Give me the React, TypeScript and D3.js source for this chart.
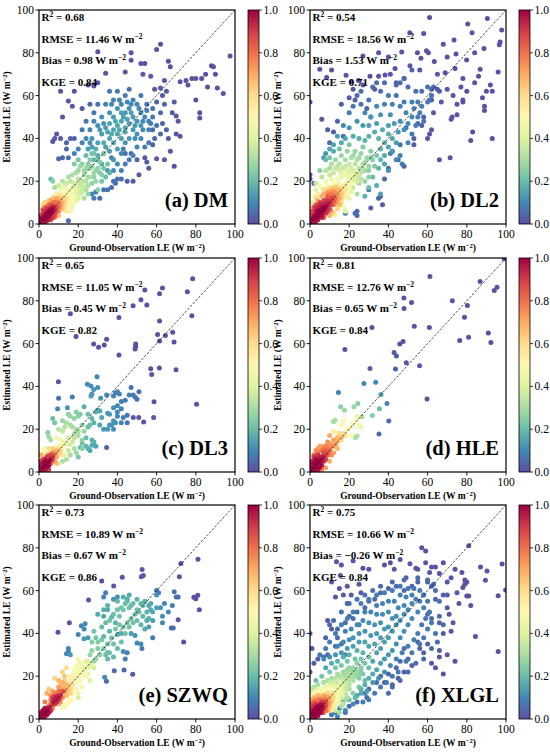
import * as d3 from "d3";

type Pt = [number, number, number]; // observed, estimated, normalised density

// (a) DM
const dmPoints: Pt[] = [
  [1,1,.95],[2,1.5,.97],[2,3,.98],[3,2,1],[3,4,1],[4,3,1],[4,5,1],[5,4,1],[5,6,1],[6,5,1],[6,7,.98],[7,6,.97],[7,8,.95],[8,7,.93],[3,6,.92],[2,5,.9],[5,2.5,.95],[6,3,.93],[8,5,.88],[9,8,.85],[1,3,.88],[4,7,.9],[7,4,.9],[10,8,.8],[9,10,.78],[1,2,.9],[.5,.5,.85],[3,.5,.85],[6,9,.85],[8,10,.8],
  [1.5,2.5,1],[2.5,1,.95],[3.5,3,1],[4.5,4,1],[5.5,5,1],[6.5,6,1],[7.5,7,.95],[4,1.5,.95],[6,2,.9],[7,3,.88],[8,4,.85],[9,6,.85],[2,6.5,.85],[3.5,7.5,.85],[5,8,.85],[7.5,9,.82],[9,7,.85],[10,9.5,.78],[1,4,.9],[.5,1.5,.85],
  [10,6,.75],[11,9,.72],[12,10,.68],[9,12,.7],[11,12,.65],[7,10,.75],[5,9,.8],[3,8,.75],[2,7,.72],[12,7,.65],[13,11,.6],[8,3,.78],[10,4,.68],[6,11,.7],
  [11,7,.68],[12,9,.65],[13,8,.6],[12,12,.62],[11,10,.7],[10,11,.7],[9,11,.72],[8,9,.8],[13,10,.6],[14,12,.58],[7,12,.65],[5,11,.65],[3,10,.62],
  [14,10,.55],[15,12,.52],[13,14,.5],[16,14,.48],[14,6,.55],[16,9,.5],[17,12,.47],[12,15,.5],[10,14,.55],[8,13,.55],[15,15,.48],[18,14,.45],[4,10,.6],[2,9,.58],[18,10,.45],[11,16,.45],[19,16,.42],[16,6,.45],[20,12,.4],
  [15,10,.5],[16,11,.48],[17,13,.45],[14,14,.5],[13,16,.45],[15,13,.5],[17,10,.45],[18,12,.43],[19,13,.42],[18,16,.42],[16,16,.45],[12,17,.42],[14,8,.52],[15,6,.48],[17,8,.42],[19,11,.4],[20,14,.38],[11,13,.58],[13,13,.55],[9,14,.55],
  [20,16,.38],[22,18,.35],[18,19,.36],[21,14,.35],[24,20,.32],[23,23,.3],[20,21,.33],[26,22,.3],[25,18,.3],[28,24,.28],[19,24,.3],[16,20,.33],[14,19,.35],[13,18,.38],[10,18,.35],[8,17,.3],[7,20,.25],[6,21,.2],[27,27,.26],[30,26,.26],[24,26,.27],[22,28,.25],[29,20,.27],[32,23,.25],[31,29,.24],[26,30,.24],[35,28,.22],[23,12,.3],[25,14,.27],[30,16,.25],[18,28,.24],[20,30,.22],[33,33,.22],[28,33,.22],
  [21,17,.35],[22,15,.35],[23,17,.33],[24,16,.3],[22,20,.33],[21,19,.35],[19,18,.38],[17,17,.4],[25,22,.3],[27,19,.27],[26,26,.27],[23,25,.28],[20,25,.28],[17,23,.3],[15,22,.3],[12,20,.32],[28,22,.26],[29,25,.25],[31,24,.23],[33,26,.22],[30,30,.22],[25,28,.25],[27,33,.2],[24,32,.2],[21,27,.27],[32,20,.22],[34,22,.2],[36,24,.18],
  [25,35,.14],[27,40,.12],[30,38,.14],[32,42,.14],[34,45,.14],[36,40,.15],[38,44,.15],[40,46,.15],[42,48,.15],[44,45,.15],[46,47,.14],[48,44,.13],[40,42,.15],[42,40,.14],[38,50,.13],[36,52,.12],[40,54,.12],[44,52,.13],[46,54,.12],[48,50,.13],[50,48,.12],[52,52,.11],[54,50,.1],[50,42,.12],[52,40,.1],[46,40,.13],[44,38,.12],[34,36,.14],[30,32,.16],[28,30,.18],[36,34,.14],[38,30,.12],[42,33,.1],[40,28,.1],[32,50,.11],[30,46,.11],[28,48,.1],[26,44,.1],[24,40,.1],[22,38,.09],[34,56,.09],[38,58,.09],[42,56,.1],[44,60,.08],[48,58,.09],[50,56,.09],[36,62,.07],[40,62,.07],[46,63,.06],[52,60,.07],[55,56,.07],[56,48,.08],[58,50,.07],[56,44,.08],[60,46,.06],[58,54,.06],[54,36,.08],[50,36,.1],[48,32,.09],[32,28,.16],[35,25,.13],[38,25,.11],[42,25,.08],[44,28,.08],[20,35,.09],[18,33,.08],[22,44,.07],[24,48,.07],[28,52,.07],[30,56,.06],[26,56,.05],[62,52,.05],[64,56,.04],[62,42,.05],[56,38,.07],[46,30,.08],[52,46,.12],[36,47,.15],[44,43,.16],[33,38,.16],[29,35,.17],[40,35,.14],[47,52,.14],[42,52,.14],[38,38,.16],
  [35,43,.15],[43,50,.14],[39,48,.15],[45,49,.14],[41,44,.16],[37,42,.16],[49,46,.13],[33,47,.12],[31,44,.13],[47,56,.1],[53,48,.1],[51,54,.1],[55,53,.08],[57,47,.08],[27,36,.14],[26,38,.12],[37,56,.1],[41,58,.09],[45,57,.1],[49,40,.11],[53,44,.1],
  [97.5,78.5,0],[62,84,0],[60,81.5,0],[30,80.5,0],[47,80,0],[47,76.5,0],[52,75,0],[54,75,0],[66,76,0],[67,73.5,0],[88,74,0],[89,73.5,0],[85,70,0],[90,70,0],[78,68,0],[80,68,0],[83,68,0],[75,67,0],[72,66.5,.01],[64,67,.01],[57,69,.01],[53,70,.01],[34,70.5,0],[44,71,.01],[30,66,.01],[25,65,.01],[28,64.5,.01],[18,62,0],[11,62,0],[15,57.5,.01],[17,55,.01],[22,54,.02],[12,50,.01],[9,42,.01],[8,40,.01],[7,38.5,.01],[11,40,.02],[16,40,.03],[18,40,.03],[14,38,.03],[14,35,.04],[10,30.5,.04],[12,31,.04],[15,31,.05],[60,30.5,.01],[50,30,.03],[54,31,.02],[47,33,.05],[58,37,.03],[67,34,.01],[69,27,0],[55,29,.02],[60,57,.03],[63,60,.02],[59,63,.02],[62,63.5,.02],[65,62,.02],[69,57,.02],[70,50.5,.01],[71,48,.01],[68,52,.02],[72,41,.01],[70,42,.01],[80,58,0],[82,52,0],[82,49.5,0],[86,64,0],[91,63.5,0],[94,61,0],[76,65,.01],[63,47,.04],[65,44,.03],[66,40,.02],[59,40,.05],[58,44,.05],[44,33,.06],[38,20,.06],[39,19,.05],[40,21,.06],[42,21,.05],[45,20,.03],[31,12,.05],[29,15,.08],[33,16,.07],[35,16,.06],[15,1.5,.05],[27,14,.1],[28,12,.08],[43,35,.08],[37,31,.1],[48,20,.02],[37,17,.05],[51,23,.02],[56,26,.02],[64,30,.01]
];

// (b) DL2
const dl2Points: Pt[] = [
  [1,1,.95],[2,2,.98],[3,3,1],[4,4,1],[5,5,1],[6,6,1],[7,7,1],[8,8,.98],[9,9,.95],[10,10,.92],[2,4,.95],[4,2,.95],[3,6,.95],[6,3,.93],[5,8,.95],[8,5,.92],[7,10,.9],[10,7,.88],[1,3,.9],[3,1,.9],[.5,.5,.9],[4,6,1],[6,4,.98],[6,9,.95],[9,6,.9],[11,12,.88],[12,11,.85],[8,11,.9],[2,6,.88],[1,5,.85],[4,8,.92],[11,9,.85],[9,12,.85],[3,9,.85],[5,10,.88],[12,13,.82],[13,12,.8],[7,3,.85],[.5,2,.85],
  [1.5,2.5,1],[2.5,3.5,1],[3.5,4.5,1],[4.5,5.5,1],[5.5,6.5,1],[6.5,7.5,1],[7.5,8.5,.97],[8.5,9.5,.95],[9.5,10.5,.92],[2.5,1.5,.97],[3.5,2.5,.98],[4.5,3.5,.98],[5.5,4.5,.98],[6.5,5.5,.97],[7.5,6.5,.95],[8.5,7.5,.93],[10.5,9,.88],[11,11,.88],[3,7.5,.93],[5,9,.92],[7,11,.88],[9,13,.82],[1,6,.85],[2,8,.85],
  [13,10,.75],[14,13,.72],[12,15,.75],[10,14,.78],[15,12,.7],[14,16,.68],[16,14,.65],[11,16,.7],[13,17,.65],[9,15,.72],[7,14,.7],[15,9,.68],[17,15,.6],[16,17,.6],[18,16,.58],[6,13,.7],[4,11,.7],[11,6,.7],[14,7,.62],[3,12,.6],[10,4,.7],[12,5,.6],[16,10,.6],[18,13,.55],[8,16,.6],
  [12,9,.78],[13,11,.75],[14,11,.7],[15,14,.68],[12,13,.78],[13,15,.72],[11,14,.76],[10,12,.8],[15,16,.65],[17,17,.58],[16,12,.62],[14,9,.65],[17,12,.55],[19,17,.52],[18,18,.55],[12,17,.62],[14,18,.58],[10,17,.6],[7,16,.6],
  [2,13,.5],[1,10,.55],[1,7,.6],[4,14,.55],[6,17,.5],[9,18,.5],[12,19,.5],[15,19,.48],[18,19,.48],[20,17,.45],[19,14,.48],[17,8,.45],[20,12,.42],[14,21,.45],[11,21,.42],[8,20,.45],[16,22,.42],[20,22,.42],[22,20,.4],[21,15,.42],[13,4,.45],[18,6,.4],[5,18,.45],[22,25,.38],[19,25,.4],
  [19,20,.45],[21,19,.45],[22,22,.42],[20,24,.4],[23,24,.38],[21,26,.37],[18,23,.42],[16,24,.4],[24,20,.38],[25,23,.35],[26,21,.33],[27,26,.32],[28,29,.3],[25,31,.28],[22,32,.27],[18,27,.35],[15,28,.32],[13,26,.35],[10,26,.3],[30,25,.25],[31,31,.24],
  [24,22,.35],[25,26,.33],[23,28,.33],[20,28,.35],[17,26,.36],[15,25,.36],[14,27,.33],[12,24,.36],[10,23,.35],[8,25,.32],[6,22,.33],[18,30,.3],[21,31,.3],[24,30,.3],[27,28,.3],[26,24,.32],[28,25,.28],[30,27,.27],[29,31,.28],[26,33,.27],[23,34,.27],[19,34,.27],[16,32,.28],[13,30,.28],[11,28,.3],[22,17,.35],[25,19,.3],[28,20,.27],[30,22,.25],[24,14,.3],[32,30,.25],[31,34,.25],[27,36,.24],[34,32,.23],[33,27,.23],[20,37,.23],[15,35,.22],[10,31,.22],[8,30,.2],[5,25,.25],[3,19,.35],[3,16,.4],
  [36,35,.18],[38,38,.18],[35,40,.18],[33,43,.17],[30,41,.18],[28,39,.18],[25,40,.17],[22,41,.16],[18,40,.15],[14,41,.14],[16,38,.16],[12,37,.15],[10,35,.15],[8,33,.13],[7,31,.13],[12,34,.17],[40,42,.17],[42,40,.15],[40,36,.15],[38,32,.16],[36,30,.18],[35,26,.18],[38,28,.15],[42,34,.13],[44,38,.13],[45,43,.13],[43,47,.13],[40,46,.14],[37,44,.16],[34,47,.14],[30,46,.14],[27,46,.13],[31,50,.12],[36,51,.12],[41,51,.12],[46,48,.11],[48,44,.11],[50,47,.1],[52,50,.1],[49,52,.1],[46,55,.09],[42,56,.09],[38,56,.09],[34,55,.1],[28,52,.1],[24,48,.11],[20,45,.12],[17,46,.1],[32,22,.2],[34,18,.17],[30,17,.2],[36,14,.15],[28,13,.18],[40,25,.12],[44,30,.1],[46,32,.09],[47,28,.08],[50,38,.09],[52,42,.08],[54,46,.08],[55,50,.08],[56,52,.08],[57,55,.08],[58,48,.07],[60,57,.07],[62,60,.06],[61,58,.06],[60,64,.06],[62,63,.05],[63,64,.05],[55,57,.08],[53,54,.09],[52,57,.08],[48,57,.08],[44,60,.07],[40,60,.07],[36,62,.06],[30,58,.06],[26,56,.07],[22,55,.07],[20,52,.08],[24,60,.05],[26,62,.05],[32,64,.05],[34,66,.05],[38,66,.05],[44,65,.05],[46,66,.05],[50,64,.05],[54,62,.06],[57,62,.06],[48,68,.05],[52,72,.04],
  [61,96.5,0],[90.5,96,0],[80.5,93.5,0],[97.8,90.6,0],[50.9,89.4,0],[58,89,0],[73.5,86,0],[68,84,0],[97,85,0],[96.6,83.8,0],[82.7,89.4,0],[88.8,82,0],[84,80,0],[59.4,81,0],[60.4,80,0],[54.8,80,0],[46.8,80.4,0],[35,80,0],[27,78.5,0],[40,78,0],[74.5,79.4,0],[79.9,76.6,0],[56.6,77.4,0],[63.4,75.9,0],[74,72.7,0],[86.8,72.3,0],[69,70.7,0],[96,71,0],[43.4,72.7,0],[38.3,69.6,0],[35,69,0],[30.6,69,0],[24.7,67,0],[18.4,69.5,0],[11,72,0],[5,72.3,0],[8.5,68.5,0],[21,66.5,0],[0,57,0],[0,23,.01],[0,21,.01],[2,19,.02],[6,49,0],[66,30,0],[71.5,31,0],[72,49,0],[72.5,50,0],[75,51,0],[78,57,0],[78,58,0],[82,39,0],[83,43,0],[89,53,0],[89,55,0],[90,62,0],[93,62,0],[92,65,0],[93,40,0],[84,66,0],[86,69,0],[88,59,0],[80,62,0],[77,64,0],[78,68,0],[65,63,.01],[66,62,.01],[70,63,.01],[67,57,.01],[62,58,.02],[58,50,.03],[60,40,.01],[61,42,.01],[62,44,.02],[55,47,.04],[57,46,.03],[53,40,.03],[53,37,.02],[48,27,.02],[45,30,.03],[42,34,.05],[40,26,.05],[38,21,.04],[36,13,.03],[35,12,.03],[37,9,.02],[31,7.5,.03],[24,6,.05],[24,4,.04],[23,5,.05],[18,5,.08],[30,16,.08],[41,33,.08],[46,37,.06],[49,45,.06],[31,50,.05],[29,54,.04],[22,63,.01],[16,56,.02],[12,43,.03],[9,44,.02],[10,38,.05],[14,48,.03],[17,41,.05],[20,59,.02],[23,58,.03],[27,65,.02],[33,63,.02],[41,70,.01],[44,66,.02],[48,68,.01],[51,74,.01],[56,72,.01],[65,70,.01],[70,78,0],[73,60,.01],[75,56,.01],[63,52,.02]
];

// (c) DL3
const dl3Points: Pt[] = [
  [1,1,.95],[2,2,1],[3,3,1],[4,4,1],[2,4,.98],[4,2,.98],[3,6,.95],[5,5,1],[6,6,.95],[1,3,.95],[3,1,.95],[5,3,.97],[6,8,.88],[7,8,.85],[2,.5,.9],[.5,2,.9],[1,5,.9],[4,7,.9],[.5,.5,.9],[5,1,.88],[7,7,.88],
  [2.5,2.5,1],[3.5,3.5,1],[1.5,2,.97],[2,1.5,.97],[4,5,.97],[5,4,.97],[3,4.5,1],[4.5,3,1],[5.5,6.5,.9],[6.5,5.5,.88],[1.5,4,.92],[8,9,.72],[9,10,.68],[10,11,.6],[11,12,.55],[12,13,.5],[7,11,.62],[5,11,.6],[3,11,.5],
  [5,8,.8],[6,7,.82],[7,9,.75],[8,8,.75],[9,7,.7],[10,9,.65],[11,10,.6],[7,6,.8],[4,6,.85],[3,5,.85],[8,5,.72],[9,4,.65],[12,8,.58],[6,4,.8],[2,6,.82],[1,8,.7],
  [9,16,.45],[11,15,.45],[13,14,.42],[14,13,.4],[10,12,.5],[12,11,.5],[8,11,.55],[6,10,.6],[4,8,.62],[16,13,.38],[17,14,.35],[2,10,.5],[3,9,.55],[15,16,.38],[18,16,.33],[13,8,.42],
  [15,27,.25],[16,26,.27],[18,25,.27],[20,26,.25],[21,27,.24],[19,28,.24],[22,22,.27],[17,21,.3],[14,23,.3],[13,21,.32],[12,24,.28],[7,25,.2],[8,23,.22],[4.5,18.5,.25],[5,16.5,.28],[6,15,.3],[10,20,.33],[12,19,.34],[16,22,.3],[18,18,.32],[20,17,.3],[22,15,.27],[22,11,.25],[18,11,.3],[19,9,.28],[16,8,.3],[14,6,.3],[12,5,.3],[20,7,.22],[10,4,.4],[15,10,.35],[20,19,.3],[23,19,.27],[19,20,.3],
  [29.6,44.5,.1],[24.7,41,.1],[26.5,40.2,.11],[27.9,38.6,.12],[27,36.5,.13],[30,39.5,.11],[26.5,35.5,.14],[31.5,34.5,.12],[34.5,36,.1],[40,37.5,.09],[39,37,.09],[38,35.5,.1],[41,36.5,.09],[42,33,.08],[40,31,.1],[44,33.5,.08],[47,39.5,.06],[48,36,.07],[50,34,.06],[51,37.5,.05],[46,36,.08],[49,35,.07],[38,30,.11],[40,28,.1],[42,29.5,.09],[36,27,.13],[35,27.5,.13],[31,28.5,.15],[30,29,.16],[31,22,.15],[33,20,.13],[36,22,.12],[37,22,.12],[38,20,.11],[39,23,.11],[40,26,.1],[42,23,.09],[43,25.5,.08],[45,26.5,.07],[45,23,.07],[32,25.5,.15],[35,20,.13],[38,24,.12],[22,13.5,.2],[24,12,.18],[25,11,.17],[26,10,.15],[27,12.5,.16],[28,14,.16],[29,12,.14],[27,15,.17],[21,11.5,.2],[24,16,.2],[25,21,.2],[26,22,.2],[27,25,.18],[28,23,.18],[29,28,.17],[23,30.5,.17],[25,27,.2],[17,35,.08],[14.5,30,.12],[10,34.5,.06],[9.5,29.5,.1],
  [78.4,90.3,0],[63,86,0],[54,85,0],[61.5,83.3,0],[75.7,84.2,0],[52,80.5,0],[55,78,0],[48,77.7,0],[16,74,0],[40.8,72.2,0],[78,73,0],[61.5,70.6,0],[68.2,65.3,0],[60.5,64.2,0],[64.5,63.8,0],[18.9,63.3,0],[61.5,61.2,0],[68.9,60.8,0],[27.9,59.8,0],[30.4,58.3,0],[33.3,59.4,0],[34.5,62,0],[49.3,59.8,0],[49.3,58.6,0],[49,57.5,0],[40.8,54.7,0],[57,48.3,0],[57.5,45.6,0],[61.4,48.6,0],[69.9,47.8,0],[9.9,42.2,.01],[58.7,32.8,0],[80.4,31.7,0],[58.5,25.5,0],[53.4,23.4,0],[50.9,25.5,.01],[48.1,25.5,.02],[34.5,11.4,.03]
];

// (d) HLE
const hlePoints: Pt[] = [
  [1,1,.95],[2,2,1],[3,3,1],[4,4,1],[5,5,1],[6,6,.98],[2,4,1],[4,2,1],[3,6,.97],[1,3,.95],[3,1,.95],[.5,.5,.9],[5,7,.95],[7,5,.93],[2,7,.92],[4,8,.9],[8,8,.88],[7,9,.87],[9,9,.85],[1,5,.93],[6,3,.95],[3,4,1],[.5,3,.9],[2,.5,.9],[5,2,.95],[7,7,.92],[8,6,.88],
  [2.5,2.5,1],[3.5,3.5,1],[1.5,2,1],[2,1.5,1],[4,5,1],[5,4,1],[3,5,1],[5,3,1],[6,7,.95],[7,6,.93],[1,4,.95],[4,1,.95],[8,10,.82],[9,11,.78],[10,12,.75],[11,13,.72],[12,12,.72],[13,15,.68],[14,14,.65],[15,16,.62],[7,11,.78],[6,12,.7],[4,11,.72],
  [10,17,.7],[12,15,.72],[14,16,.68],[16,16,.65],[17,17,.62],[9,14,.75],[11,12,.75],[13,13,.72],[8,12,.78],[10,10,.8],[7,8,.82],[9,8,.8],[14,11,.68],[12,9,.72],[6,6,.85],[5,4,.85],[3,10,.75],[4,9,.78],[2,8,.8],[8,2,.72],[6,1,.75],[10,5,.7],[15,18,.6],[18,17,.58],[11,8,.75],[6,10,.8],[5,12,.72],[17,18,.6],
  [16,22,.5],[17,24,.48],[21,21,.5],[22,23,.47],[24,25,.45],[25,22,.45],[26,21,.42],[12,19,.55],[14,18,.55],[19,20,.52],[21,17,.5],[16,15,.58],[24,26,.43],
  [15.6,30.5,.25],[17.6,28.9,.28],[22.4,30.5,.27],[24.4,32,.25],[35.4,29.5,.2],[31.8,26.4,.25],[26.5,25.8,.3],[12,23.6,.28],[12.8,24.2,.3],[23.2,16.1,.3],[24,16.8,.3],
  [27.5,41.4,.1],[33.5,41.9,.1],[14.5,37.2,.09],[39.3,32,.1],[40.2,23.8,.05],[35.2,17.7,.05],[36.2,36.2,.15],
  [99.1,99.7,0],[61.2,91.4,0],[86.8,89,0],[95.4,86.3,0],[94,84.8,0],[72.6,80,0],[47.9,81.3,0],[51.8,79.2,0],[80.3,77.8,0],[48,76.4,0],[78.8,72.3,0],[31.6,67.5,0],[53.2,68.1,0],[60.9,67.5,0],[91,65,0],[76.4,61.4,0],[80.9,63,0],[92.3,60.5,0],[47.5,61,0],[45.8,59.8,0],[17.8,57.3,0],[42.9,55.8,.02],[44.1,54.2,.02],[49.1,51.1,.02],[55.9,49.7,.01],[30.6,48.4,.03],[43.6,48.1,.03],[59.7,34.1,0]
];

// (e) SZWQ
const szwqPoints: Pt[] = [
  [8,9,.95],[9,10,.95],[10,11,.92],[7,8,.9],[8,7,.92],[9,8,.93],[11,11,.9],[12,13,.85],[7,10,.9],[10,9,.92],[1,1,.95],[2,2,1],[3,3,1],[4,4,1],[2,4,.98],[4,2,.98],[3,5,.97],[5,3,.97],[1,3,.95],[5,5,.95],[6,4,.93],[.5,.5,.9],[2,1,.95],[1,2,.95],[6,6,.9],[4,5,.97],[3,1,.95],
  [7.5,8.5,.95],[8.5,9.5,.95],[9.5,10.5,.93],[10.5,10,.9],[8,10.5,.9],[2.5,2.5,1],[3.5,3.5,1],[1.5,1.5,.98],[4.5,3.5,.95],[2,3,1],[3,2,1],
  [10,15,.72],[12,17,.7],[14,16,.68],[13,13,.75],[11,12,.78],[15,14,.65],[16,12,.62],[12,10,.75],[9,9,.8],[11,8,.72],[14,11,.68],[10,18,.68],[8,12,.78],[12,22,.62],[13,20,.65],[14,24,.6],[10,13,.8],[17,16,.6],[8,19,.62],[7,13,.72],[6,11,.75],[5,14,.65],[4,12,.7],[3,8,.78],[6,7,.8],
  [12,14,.7],[13,15,.68],[11,16,.68],[9,12,.75],[15,16,.6],[16,14,.6],[13,18,.62],[11,14,.72],[6,9,.78],[5,6,.8],[7,5,.75],[10,7,.7],[14,13,.65],[17,19,.55],[16,20,.55],[18,21,.52],[19,17,.5],
  [20,28,.45],[22,26,.45],[24,24,.42],[25,27,.4],[27,25,.4],[28,24,.38],[22,22,.48],[20,20,.5],[18,19,.52],[19,22,.5],[21,18,.5],[23,20,.47],[25,21,.43],[26,18,.4],[20,12,.42],[20,10,.38],[22,15,.45],[15,8,.5],[17,9,.48],[18,14,.52],[16,18,.55],[18,23,.5],[22,24,.45],[24,20,.45],[13,6,.5],[19,25,.47],
  [20,24,.45],[21,22,.45],[23,23,.43],[21,26,.42],[24,27,.4],[26,26,.38],[25,24,.4],[17,12,.48],[19,14,.48],[16,9,.5],[14,7,.5],[12,5,.5],
  [28,41,.22],[27,36,.24],[29,38,.22],[30,33,.24],[31,30,.25],[29,28,.27],[26,30,.28],[28,27,.28],[27,32,.26],[30,36,.24],[32,37,.22],[32,43,.2],[34,45,.2],[36,46,.21],[38,49,.21],[40,51,.21],[41,48,.22],[42,52,.21],[44,54,.2],[45,55,.19],[46,52,.21],[48,54,.2],[50,56,.18],[52,54,.18],[54,55,.17],[56,53,.16],[55,50,.18],[53,48,.19],[51,50,.2],[49,49,.21],[47,47,.22],[45,45,.22],[43,43,.22],[41,44,.22],[39,42,.22],[37,38,.22],[35,35,.22],[33,33,.24],[36,31,.21],[38,29,.19],[40,33,.2],[42,36,.21],[44,40,.21],[46,43,.21],[48,45,.21],[50,46,.2],[52,44,.18],[54,42,.16],[56,47,.17],[58,50,.16],[60,52,.14],[57,54,.16],[43,51,.22],[38,35,.21],[35,28,.19],[34,30,.21],[35,53,.18],[40,55,.19],[43,57,.17],[46,58,.16],[50,51,.21],[53,53,.19],[30,49,.16],[33,51,.17],
  [21.6,43.6,.1],[23,42,.1],[23.5,44.5,.1],[20,39.5,.1],[23,37.5,.12],[25,38,.13],[15,33,.1],[15,31.5,.1],[14,30.5,.1],[16,30,.12],[33.5,19.5,.1],[33,57,.09],[34,59,.08],[38,56,.12],[40,57,.12],[60,60,.08],[61,59,.08],[69,59.5,.06],[70,57,.06],[68.5,42.5,.05],[67.5,42.5,.05],[58,38,.08],[52.5,33,.08],[50,35.5,.1],[45,31,.08],[43,31.5,.1],[44,28,.08],[35,31,.16],[52,35,.1],[40,39.5,.16],[42,40,.16],[47,40,.14],[49,39,.12],[33,38.5,.18],[36,41,.18],[39,45,.18],[37,47.5,.18],[33,48,.16],[35,51,.16],[45,56,.16],[47,53,.18],[60,58,.12],[62,52,.12],[63,48,.11],[64,54,.1],[68,53,.08],[66,50,.1],[71,57,.05],[55,46,.16],[56,43,.14],[58,46,.14],[57,51,.16],[63,45,.1],
  [81.1,74.6,0],[72.4,72.7,0],[52.6,69.9,.01],[52.2,66.5,.02],[53.2,67.1,.02],[42.5,66.2,.01],[32,64.5,0],[71.6,66.5,0],[38.1,62.1,.02],[25.3,55.6,.01],[79,56.9,0],[81,57.8,0],[80,56.2,0],[81.8,51,0],[71,46.4,.02],[73.8,36,0],[15.5,45,.01],[9.7,40.5,0],[47.8,20.9,.02],[43.4,22.9,.03],[38.4,22.6,.05],[34.4,17.6,.05]
];

// (f) XLGL
const xlglPoints: Pt[] = [
  [1,1,.95],[2,2,1],[3,3,1],[4,4,1],[5,5,1],[6,6,.98],[2,4,1],[4,2,1],[3,5,1],[5,3,1],[1,3,.95],[3,1,.95],[.5,.5,.9],[6,4,.95],[4,6,.97],[7,5,.9],[5,7,.92],[7,7,.9],[8,6,.85],[6,8,.88],[1,5,.9],[.5,2,.9],[2,.5,.9],[8,8,.85],[2,6,.92],[3,7,.9],[1,7,.85],
  [1.5,2.5,1],[2.5,3.5,1],[3.5,4.5,1],[4.5,5.5,1],[5.5,6.5,.98],[2.5,1.5,1],[3.5,2.5,1],[4.5,3.5,1],[5.5,4.5,1],[6.5,5.5,.95],[7.5,6.5,.9],[6.5,7.5,.92],[1,2,.95],[2,1,.95],[1.5,4,.95],[4,1.5,.95],[3,6,.93],[6,3,.93],[2,8,.82],[8,4,.8],
  [9,7,.75],[8,9,.78],[10,8,.7],[9,10,.72],[7,9,.8],[10,6,.68],[11,9,.65],[9,4,.7],[7,3,.8],[11,11,.62],[12,10,.6],[5,9,.8],[3,9,.75],[1,9,.7],[.5,8,.7],[4,11,.68],[13,12,.55],[12,7,.55],
  [9,8,.72],[10,9,.68],[8,10,.72],[11,8,.62],[10,10,.65],[12,11,.58],[11,12,.58],[9,12,.62],[7,11,.7],[6,10,.72],[4,9,.78],[2,10,.68],[9,5,.68],[10,4,.6],[12,6,.55],
  [13,9,.5],[14,12,.5],[12,14,.48],[10,12,.55],[8,12,.55],[6,11,.6],[15,14,.45],[14,10,.45],[16,12,.42],[11,5,.5],[13,6,.45],[10,15,.45],[7,13,.5],[3,12,.5],[1,12,.45],[16,15,.4],[17,13,.4],[9,14,.5],[5,13,.52],[15,8,.4],
  [13,11,.48],[14,13,.45],[15,12,.42],[13,14,.44],[12,13,.5],[11,14,.47],[16,14,.4],[17,16,.37],[18,14,.35],[15,16,.38],[14,15,.42],[12,16,.4],[10,17,.35],[8,15,.42],[6,14,.45],[4,14,.4],[2,12,.45],[18,18,.33],[19,19,.32],[21,19,.3],[20,16,.32],[22,21,.28],[23,23,.27],[21,23,.28],[19,23,.27],[25,21,.25],[26,23,.24],[17,20,.3],[15,20,.3],[13,19,.32],[16,10,.38],[14,8,.42],[17,7,.33],[19,10,.3],
  [18,16,.35],[17,18,.35],[19,15,.33],[20,18,.32],[16,19,.33],[14,17,.36],[12,17,.36],[18,12,.33],[20,14,.3],[22,18,.3],[21,21,.3],[19,21,.3],[23,20,.28],[24,22,.27],[22,24,.27],[25,19,.25],[26,24,.25],[24,26,.25],[20,24,.27],[17,22,.28],[14,21,.3],[11,19,.3],[9,18,.3],[7,17,.3],[4,16,.3],[2,15,.3],[1,14,.35],[13,4,.35],[16,6,.3],[18,9,.28],[15,3,.3],[22,12,.25],[27,21,.23],[28,26,.22],[26,28,.22],[23,28,.22],[19,27,.22],[16,25,.23],[13,24,.22],[10,22,.22],[6,20,.22],[3,18,.2],[28,18,.2],[25,15,.22],[30,24,.2],[30,29,.2],[27,31,.18],[24,32,.18],[20,30,.18],[17,29,.17],[14,27,.17],[11,26,.16],[8,24,.15],[20,9,.2],[23,10,.18],[26,12,.16],
  [32,27,.15],[34,31,.15],[33,35,.15],[30,34,.15],[28,36,.14],[25,36,.14],[22,34,.14],[19,33,.13],[16,31,.13],[13,30,.12],[10,29,.11],[7,28,.1],[36,33,.14],[38,36,.14],[36,38,.14],[34,40,.13],[31,39,.13],[28,41,.12],[25,40,.12],[22,38,.12],[20,37,.11],[17,36,.1],[14,34,.1],[40,38,.13],[42,41,.13],[40,43,.12],[38,42,.13],[36,45,.12],[33,44,.12],[30,45,.11],[27,46,.1],[24,44,.1],[21,42,.1],[18,41,.09],[44,44,.12],[46,46,.12],[44,48,.11],[42,47,.12],[40,50,.11],[37,49,.11],[34,49,.1],[31,50,.09],[28,50,.09],[48,49,.11],[50,51,.1],[48,53,.1],[45,52,.1],[43,55,.09],[40,55,.09],[37,54,.09],[34,53,.08],[52,54,.09],[54,56,.08],[52,58,.08],[49,57,.09],[46,58,.08],[56,55,.08],[58,52,.08],[55,50,.09],[52,47,.1],[50,44,.1],[48,41,.11],[46,38,.11],[44,35,.11],[42,32,.12],[40,30,.12],[38,28,.13],[36,26,.14],[34,23,.15],[32,21,.16],[30,19,.17],[28,16,.17],[26,14,.16],[24,11,.15],[29,13,.14],[32,17,.13],[35,19,.12],[38,22,.11],[41,25,.1],[44,28,.09],[47,31,.09],[50,34,.08],[53,37,.08],[55,40,.08],[57,44,.07],[59,47,.07],[61,50,.07],[60,55,.07],[58,58,.07],[56,60,.07],[53,61,.07],[50,61,.07],[46,62,.07],[42,60,.08],[38,59,.08],[34,58,.08],[30,56,.08],[26,54,.08],[22,50,.08],[19,47,.08],[16,44,.08],[13,40,.08],[10,36,.08],[8,33,.08],[5,30,.08],[62,45,.07],[64,40,.06],[60,42,.07],[58,38,.07],[56,35,.07],[52,31,.07],[49,27,.07],[45,22,.07],[42,20,.07],[39,17,.07],[36,15,.07],[33,12,.07],[30,9,.07],[27,8,.08],[22,7,.1],[18,4,.1],[14,1,.1],[64,60,.06],[66,55,.06],[63,63,.05],[60,65,.05],[55,66,.05],[48,65,.05],[42,64,.05],[36,62,.05],[32,60,.06],[28,58,.06],[24,56,.06],[20,54,.06],[16,50,.06],[12,46,.05],[10,44,.05],[66,48,.05],[68,44,.05],[65,36,.05],[62,33,.05],[58,28,.05],[54,26,.05],[50,22,.05],[46,18,.05],[42,15,.05],[40,12,.05],
  [81,81,0],[57,80,0],[59,78.5,0],[87,71,0],[98,72.4,0],[90.3,69.2,0],[89.5,64.8,0],[96,57.6,0],[99.8,60.3,0],[96,31.5,0],[84.4,38.5,0],[82,53,0],[80,57.5,0],[81,57.5,0],[79,65,0],[80,64,0],[77.5,68.5,0],[74,70,0],[78,61.5,0],[79,63,0],[72,66,.01],[70,64,.01],[66,68,.01],[64,71,.01],[68,73,0],[62,71,.01],[61,68.5,.01],[59,73,.01],[55,70,.01],[54,70.5,.01],[51,72.5,.01],[46,74.5,0],[41,73,0],[43,70,.01],[38,72,0],[30,70,0],[27,70.5,0],[22,74,0],[16,72,0],[15.5,67,0],[13.5,73.5,0],[11,64,0],[15,61,.01],[19,62,.01],[25,63,.01],[26,59,.02],[21,58,.02],[17,58,.02],[19,54,.03],[13,57,.01],[9,46,.02],[11,42,.02],[0,40,0],[1,33,.01],[2,26,.02],[0,22,.02],[4,28,.03],[7,29,.04],[9,30,.05],[13,34,.05],[14,38,.04],[8,38,.03],
  [74,27,0],[70,30,0],[68,21,0],[64,24,.01],[62,26,.01],[66,29,.01],[66,32,.02],[60,35,.03],[58,31,.03],[56,33,.03],[52,25,.03],[50,28,.04],[48,33,.05],[46,27,.04],[44,24,.04],[40,21,.04],[36,20,.05],[30,14,.05],[34,17,.05],[29,10,.04],[24,8,.05],[20,6,.06],[15,5,.06],[11,2,.07],[13,3,.07],[18,3,.05],[16,8,.1],[28,12,.08],[38,17,.04],[42,16,.03],[45,19,.03],[48,22,.03],[55,36,.04],[68,40,.02],[72,41,.01],[73,45,.01],[71,49,.01],[70,52,.02],[75,59,.01],[76,54,.01],[66,45,.03],[62,47,.04],[60,49,.05],[64,56,.04],[68,58,.03],[70,58,.02],[62,62,.03],[58,58,.04],[60,64,.03],[55,64,.03],[52,62,.04],[48,60,.04],[49,66,.03],[44,62,.04],[40,61,.04],[36,59,.04],[33,56,.05],[30,55,.05],[28,52,.05],[24,50,.05],[22,47,.05],[20,48,.05],[18,45,.05],[25,44,.07],[14,42,.04],[16,35,.07],[18,30,.1]
];

const panelPoints: Pt[][] = [dmPoints, dl2Points, dl3Points, hlePoints, szwqPoints, xlglPoints];
const panelNames = ["(a) DM", "(b) DL2", "(c) DL3", "(d) HLE", "(e) SZWQ", "(f) XLGL"];
const r2Values = ["0.68", "0.54", "0.65", "0.81", "0.73", "0.75"];
const rmseValues = ["11.46", "18.56", "11.05", "12.76", "10.89", "10.66"];
const biasValues = ["0.98", "1.53", "0.45", "0.65", "0.67", "\u22120.26"];
const kgeValues = ["0.84", "0.71", "0.82", "0.84", "0.86", "0.84"];
const axisTicks = [0, 20, 40, 60, 80, 100];
const cbarTicks = [0, 0.2, 0.4, 0.6, 0.8, 1.0];

const W = 550;
const H = 752;
const plotW = 196;
const plotH = 214;
const colLeft = [39, 310];
const rowTop = [10, 258, 505];
const serif = "'Liberation Serif', 'Times New Roman', serif";
const color = (d: number) => d3.interpolateSpectral(1 - d);

function Unit() {
  return (
    <>
      <tspan> W m</tspan>
      <tspan fontSize={7.5} dy={-4}>{"\u22122"}</tspan>
    </>
  );
}

function Panel({ idx }: { idx: number }) {
  const x0 = colLeft[idx % 2];
  const y0 = rowTop[Math.floor(idx / 2)];
  const x = d3.scaleLinear().domain([0, 100]).range([x0, x0 + plotW]);
  const y = d3.scaleLinear().domain([0, 100]).range([y0 + plotH, y0]);
  const pts = [...panelPoints[idx]].sort((a, b) => a[2] - b[2]);
  const clipId = `clip${idx}`;
  const gradId = `grad${idx}`;
  const cbX = x0 + plotW + 13;
  const cbW = 11;
  const cbY = d3.scaleLinear().domain([0, 1]).range([y0 + plotH, y0]);
  const sx = x0 + 2.5;
  return (
    <g fontFamily={serif}>
      <defs>
        <clipPath id={clipId}>
          <rect x={x0} y={y0} width={plotW} height={plotH} />
        </clipPath>
        <linearGradient id={gradId} x1="0" y1="1" x2="0" y2="0">
          {d3.range(0, 1.0001, 0.1).map((t) => (
            <stop key={t} offset={t} stopColor={color(t)} />
          ))}
        </linearGradient>
      </defs>
      <g clipPath={`url(#${clipId})`}>
        {pts.map((p, i) => (
          <circle key={i} cx={x(p[0])} cy={y(p[1])} r={2.5} fill={color(p[2])} />
        ))}
        <line x1={x(0)} y1={y(0)} x2={x(100)} y2={y(100)} stroke="#000" strokeWidth={0.7} strokeDasharray="2.5,1.5" />
      </g>
      <rect x={x0} y={y0} width={plotW} height={plotH} fill="none" stroke="#000" strokeWidth={1.2} />
      {axisTicks.map((t) => (
        <g key={`x${t}`}>
          <line x1={x(t)} x2={x(t)} y1={y0 + plotH} y2={y0 + plotH + 3.5} stroke="#000" strokeWidth={0.9} />
          <text x={x(t)} y={y0 + plotH + 14} fontSize={11.5} textAnchor="middle">{t}</text>
        </g>
      ))}
      {axisTicks.map((t) => (
        <g key={`y${t}`}>
          <line x1={x0 - 3.5} x2={x0} y1={y(t)} y2={y(t)} stroke="#000" strokeWidth={0.9} />
          <text x={x0 - 5} y={y(t) + 4} fontSize={11.5} textAnchor="end">{t}</text>
        </g>
      ))}
      <text x={x0 + plotW / 2} y={y0 + plotH + 27} fontSize={9.5} fontWeight="bold" textAnchor="middle">
        Ground-Observation LE (W m<tspan fontSize={6.5} dy={-3.5}>{"\u22122"}</tspan><tspan dy={3.5}>)</tspan>
      </text>
      <text transform={`translate(${x0 - 29},${y0 + plotH / 2}) rotate(-90)`} fontSize={9.5} fontWeight="bold" textAnchor="middle">
        Estimated LE (W m<tspan fontSize={6.5} dy={-3.5}>{"\u22122"}</tspan><tspan dy={3.5}>)</tspan>
      </text>
      <g fontWeight="bold" fontSize={11}>
        <text x={sx} y={y0 + 11}>
          R<tspan fontSize={7.5} dy={-4}>2</tspan><tspan dy={4}> = {r2Values[idx]}</tspan>
        </text>
        <text x={sx} y={y0 + 32.5}>
          RMSE = {rmseValues[idx]}<Unit />
        </text>
        <text x={sx} y={y0 + 54}>
          Bias = {biasValues[idx]}<Unit />
        </text>
        <text x={sx} y={y0 + 75.5}>KGE = {kgeValues[idx]}</text>
      </g>
      <text x={x0 + plotW - 7} y={y0 + plotH - 17} fontSize={20.5} fontWeight="bold" textAnchor="end">
        {panelNames[idx]}
      </text>
      <rect x={cbX} y={y0} width={cbW} height={plotH} fill={`url(#${gradId})`} stroke="#000" strokeWidth={0.8} />
      {cbarTicks.map((t) => (
        <g key={`c${t}`}>
          <line x1={cbX + cbW} x2={cbX + cbW + 3} y1={cbY(t)} y2={cbY(t)} stroke="#000" strokeWidth={0.8} />
          <text x={cbX + cbW + 4.5} y={cbY(t) + 4} fontSize={11.5}>{t.toFixed(1)}</text>
        </g>
      ))}
    </g>
  );
}

export default function App() {
  return (
    <svg
      width={W}
      height={H}
      viewBox={`0 0 ${W} ${H}`}
      style={{ position: "absolute", left: 0, top: 0, background: "#fff" }}
    >
      <rect width={W} height={H} fill="#fff" />
      {panelNames.map((_, i) => (
        <Panel key={i} idx={i} />
      ))}
    </svg>
  );
}
